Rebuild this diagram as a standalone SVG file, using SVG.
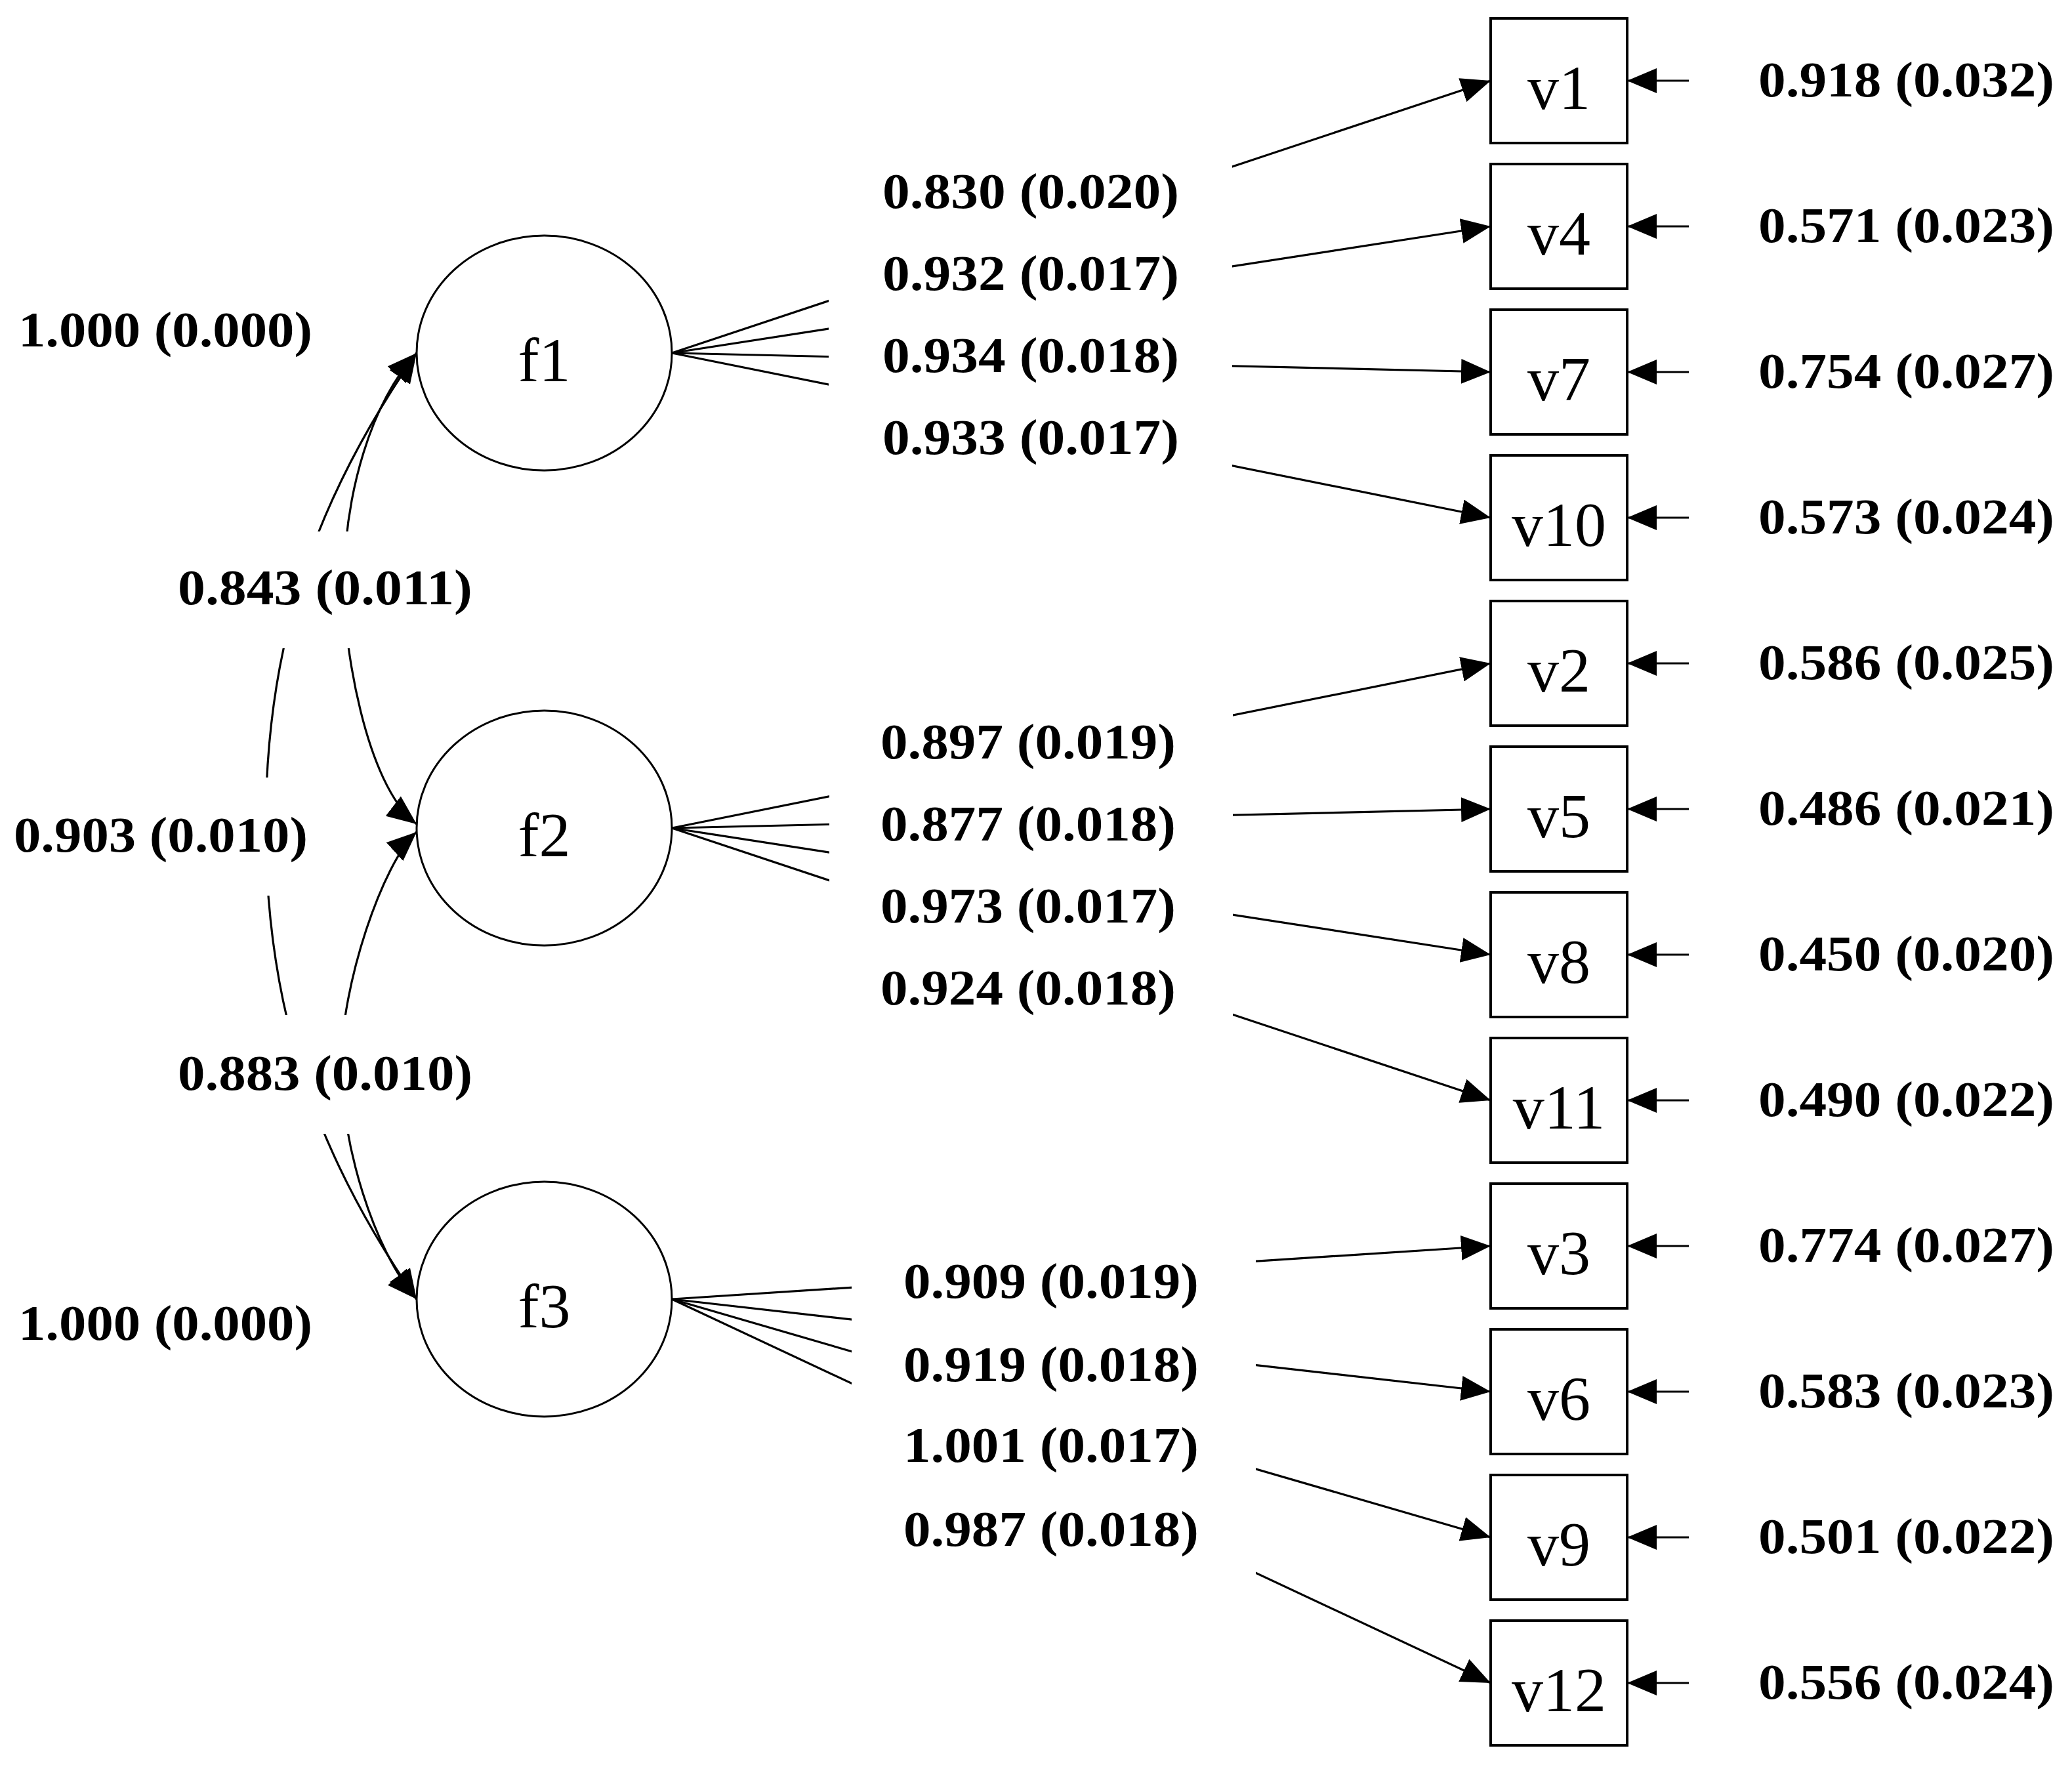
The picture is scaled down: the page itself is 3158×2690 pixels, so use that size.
<svg xmlns="http://www.w3.org/2000/svg" width="3158" height="2690" viewBox="0 0 3158 2690">
<defs>
<style>
.edge{fill:none;stroke:#000;stroke-width:3.2}
.box{fill:#fff;stroke:#000;stroke-width:4}
.lat{fill:#fff;stroke:#000;stroke-width:3}
.nd{font-family:"Liberation Serif","Times New Roman",serif;font-size:96px;text-anchor:middle;fill:#000}
.lbl{font-family:"Liberation Serif","Times New Roman",serif;font-weight:bold;font-size:76px;fill:#000}
</style>
<marker id="ah" viewBox="0 0 45 38" refX="45" refY="19" markerWidth="45" markerHeight="38" markerUnits="userSpaceOnUse" orient="auto-start-reverse">
<path d="M0,0 L45,19 L0,38 z" fill="#000"/>
</marker>
<mask id="gaps" maskUnits="userSpaceOnUse" x="0" y="0" width="3158" height="2690">
<rect x="0" y="0" width="3158" height="2690" fill="#fff"/>
<rect x="1263" y="230" width="615" height="500" fill="#000"/>
<rect x="1264" y="1070" width="615" height="500" fill="#000"/>
<rect x="1298" y="1900" width="616" height="520" fill="#000"/>
<rect x="250" y="810" width="490" height="178" fill="#000"/>
<rect x="10" y="1185" width="470" height="180" fill="#000"/>
<rect x="250" y="1547" width="490" height="181" fill="#000"/>
</mask>
</defs>
<rect x="0" y="0" width="3158" height="2690" fill="#fff"/>

<g id="connectors" mask="url(#gaps)">
<path class="edge" marker-end="url(#ah)" d="M1024,538 L2272,123"/>
<path class="edge" marker-end="url(#ah)" d="M1024,538 L2272,345"/>
<path class="edge" marker-end="url(#ah)" d="M1024,538 L2272,567"/>
<path class="edge" marker-end="url(#ah)" d="M1024,538 L2272,789"/>
<path class="edge" marker-end="url(#ah)" d="M1024,1262 L2272,1011"/>
<path class="edge" marker-end="url(#ah)" d="M1024,1262 L2272,1233"/>
<path class="edge" marker-end="url(#ah)" d="M1024,1262 L2272,1455"/>
<path class="edge" marker-end="url(#ah)" d="M1024,1262 L2272,1677"/>
<path class="edge" marker-end="url(#ah)" d="M1024,1980 L2272,1899"/>
<path class="edge" marker-end="url(#ah)" d="M1024,1980 L2272,2121"/>
<path class="edge" marker-end="url(#ah)" d="M1024,1980 L2272,2343"/>
<path class="edge" marker-end="url(#ah)" d="M1024,1980 L2272,2565"/>
<path class="edge" marker-end="url(#ah)" d="M2574,123 L2480,123"/>
<path class="edge" marker-end="url(#ah)" d="M2574,345 L2480,345"/>
<path class="edge" marker-end="url(#ah)" d="M2574,567 L2480,567"/>
<path class="edge" marker-end="url(#ah)" d="M2574,789 L2480,789"/>
<path class="edge" marker-end="url(#ah)" d="M2574,1011 L2480,1011"/>
<path class="edge" marker-end="url(#ah)" d="M2574,1233 L2480,1233"/>
<path class="edge" marker-end="url(#ah)" d="M2574,1455 L2480,1455"/>
<path class="edge" marker-end="url(#ah)" d="M2574,1677 L2480,1677"/>
<path class="edge" marker-end="url(#ah)" d="M2574,1899 L2480,1899"/>
<path class="edge" marker-end="url(#ah)" d="M2574,2121 L2480,2121"/>
<path class="edge" marker-end="url(#ah)" d="M2574,2343 L2480,2343"/>
<path class="edge" marker-end="url(#ah)" d="M2574,2565 L2480,2565"/>
<path class="edge" marker-start="url(#ah)" marker-end="url(#ah)" d="M635,538 C567.5,611.8 524,748 524,898 C524,978 555.6,1195.1 635,1256"/>
<path class="edge" marker-start="url(#ah)" marker-end="url(#ah)" d="M635,538 C492.5,743.5 405,958 405,1258 C405,1558 492.5,1774.5 635,1980"/>
<path class="edge" marker-start="url(#ah)" marker-end="url(#ah)" d="M635,1268 C583,1314.8 520,1502 520,1622 C520,1742 569.1,1904.7 635,1980"/>
</g>

<g id="f1"><ellipse class="lat" cx="829.5" cy="538" rx="194.5" ry="179"/><text class="nd" x="829.5" y="581">f1</text></g>
<g id="f2"><ellipse class="lat" cx="829.5" cy="1262" rx="194.5" ry="179"/><text class="nd" x="829.5" y="1305">f2</text></g>
<g id="f3"><ellipse class="lat" cx="829.5" cy="1980" rx="194.5" ry="179"/><text class="nd" x="829.5" y="2023">f3</text></g>

<g id="v1"><rect class="box" x="2272" y="28" width="208" height="190"/><text class="nd" x="2376" y="166">v1</text></g>
<g id="v4"><rect class="box" x="2272" y="250" width="208" height="190"/><text class="nd" x="2376" y="388">v4</text></g>
<g id="v7"><rect class="box" x="2272" y="472" width="208" height="190"/><text class="nd" x="2376" y="610">v7</text></g>
<g id="v10"><rect class="box" x="2272" y="694" width="208" height="190"/><text class="nd" x="2376" y="832">v10</text></g>
<g id="v2"><rect class="box" x="2272" y="916" width="208" height="190"/><text class="nd" x="2376" y="1054">v2</text></g>
<g id="v5"><rect class="box" x="2272" y="1138" width="208" height="190"/><text class="nd" x="2376" y="1276">v5</text></g>
<g id="v8"><rect class="box" x="2272" y="1360" width="208" height="190"/><text class="nd" x="2376" y="1498">v8</text></g>
<g id="v11"><rect class="box" x="2272" y="1582" width="208" height="190"/><text class="nd" x="2376" y="1720">v11</text></g>
<g id="v3"><rect class="box" x="2272" y="1804" width="208" height="190"/><text class="nd" x="2376" y="1942">v3</text></g>
<g id="v6"><rect class="box" x="2272" y="2026" width="208" height="190"/><text class="nd" x="2376" y="2164">v6</text></g>
<g id="v9"><rect class="box" x="2272" y="2248" width="208" height="190"/><text class="nd" x="2376" y="2386">v9</text></g>
<g id="v12"><rect class="box" x="2272" y="2470" width="208" height="190"/><text class="nd" x="2376" y="2608">v12</text></g>

<g id="labels">
<text class="lbl" x="28" y="528" textLength="448" lengthAdjust="spacingAndGlyphs">1.000 (0.000)</text>
<text class="lbl" x="271" y="921" textLength="449" lengthAdjust="spacingAndGlyphs">0.843 (0.011)</text>
<text class="lbl" x="21" y="1298" textLength="448" lengthAdjust="spacingAndGlyphs">0.903 (0.010)</text>
<text class="lbl" x="271" y="1661" textLength="449" lengthAdjust="spacingAndGlyphs">0.883 (0.010)</text>
<text class="lbl" x="28" y="2042" textLength="448" lengthAdjust="spacingAndGlyphs">1.000 (0.000)</text>

<text class="lbl" x="1345" y="317" textLength="452" lengthAdjust="spacingAndGlyphs">0.830 (0.020)</text>
<text class="lbl" x="1345" y="442" textLength="452" lengthAdjust="spacingAndGlyphs">0.932 (0.017)</text>
<text class="lbl" x="1345" y="567" textLength="452" lengthAdjust="spacingAndGlyphs">0.934 (0.018)</text>
<text class="lbl" x="1345" y="692" textLength="452" lengthAdjust="spacingAndGlyphs">0.933 (0.017)</text>

<text class="lbl" x="1342" y="1156" textLength="450" lengthAdjust="spacingAndGlyphs">0.897 (0.019)</text>
<text class="lbl" x="1342" y="1281" textLength="450" lengthAdjust="spacingAndGlyphs">0.877 (0.018)</text>
<text class="lbl" x="1342" y="1406" textLength="450" lengthAdjust="spacingAndGlyphs">0.973 (0.017)</text>
<text class="lbl" x="1342" y="1531" textLength="450" lengthAdjust="spacingAndGlyphs">0.924 (0.018)</text>

<text class="lbl" x="1377" y="1978" textLength="450" lengthAdjust="spacingAndGlyphs">0.909 (0.019)</text>
<text class="lbl" x="1377" y="2105" textLength="450" lengthAdjust="spacingAndGlyphs">0.919 (0.018)</text>
<text class="lbl" x="1377" y="2228" textLength="450" lengthAdjust="spacingAndGlyphs">1.001 (0.017)</text>
<text class="lbl" x="1377" y="2356" textLength="450" lengthAdjust="spacingAndGlyphs">0.987 (0.018)</text>

<text class="lbl" x="2680" y="147" textLength="451" lengthAdjust="spacingAndGlyphs">0.918 (0.032)</text>
<text class="lbl" x="2680" y="369" textLength="451" lengthAdjust="spacingAndGlyphs">0.571 (0.023)</text>
<text class="lbl" x="2680" y="591" textLength="451" lengthAdjust="spacingAndGlyphs">0.754 (0.027)</text>
<text class="lbl" x="2680" y="813" textLength="451" lengthAdjust="spacingAndGlyphs">0.573 (0.024)</text>
<text class="lbl" x="2680" y="1035" textLength="451" lengthAdjust="spacingAndGlyphs">0.586 (0.025)</text>
<text class="lbl" x="2680" y="1257" textLength="451" lengthAdjust="spacingAndGlyphs">0.486 (0.021)</text>
<text class="lbl" x="2680" y="1479" textLength="451" lengthAdjust="spacingAndGlyphs">0.450 (0.020)</text>
<text class="lbl" x="2680" y="1701" textLength="451" lengthAdjust="spacingAndGlyphs">0.490 (0.022)</text>
<text class="lbl" x="2680" y="1923" textLength="451" lengthAdjust="spacingAndGlyphs">0.774 (0.027)</text>
<text class="lbl" x="2680" y="2145" textLength="451" lengthAdjust="spacingAndGlyphs">0.583 (0.023)</text>
<text class="lbl" x="2680" y="2367" textLength="451" lengthAdjust="spacingAndGlyphs">0.501 (0.022)</text>
<text class="lbl" x="2680" y="2589" textLength="451" lengthAdjust="spacingAndGlyphs">0.556 (0.024)</text>
</g>
</svg>
